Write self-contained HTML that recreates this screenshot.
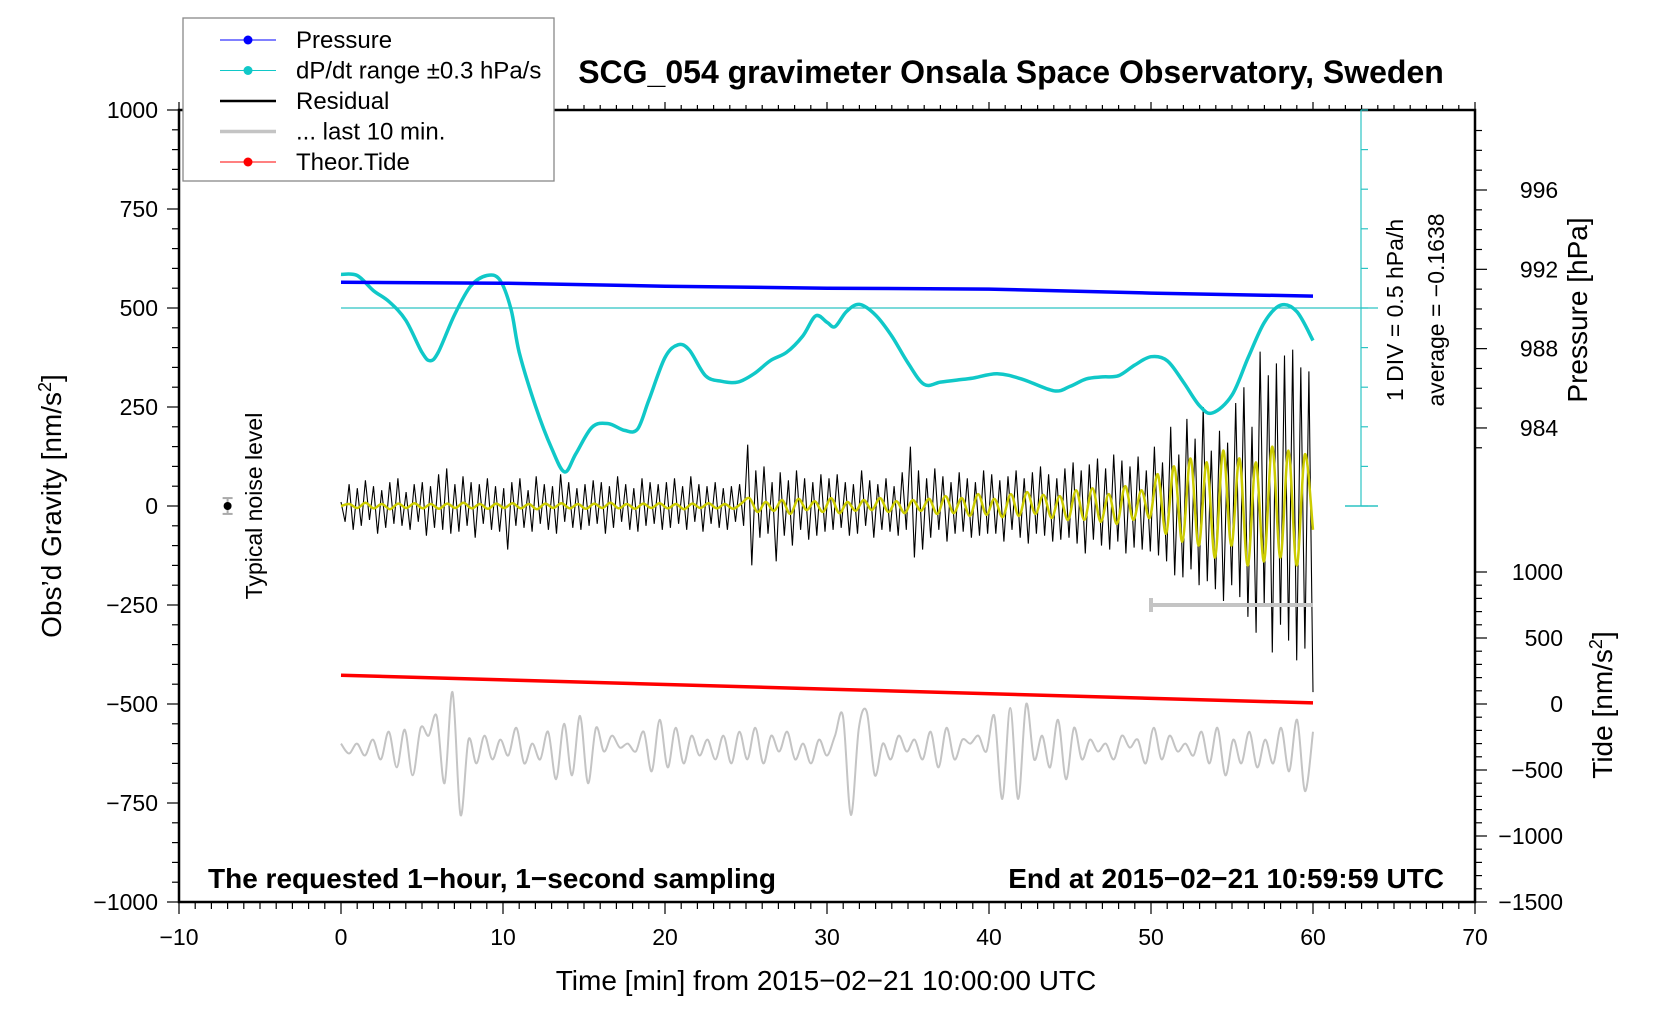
<!DOCTYPE html>
<html><head><meta charset="utf-8"><style>
html,body{margin:0;padding:0;background:#fff}
svg{display:block;font-family:"Liberation Sans",sans-serif}
</style></head><body>
<svg id="chart" width="1676" height="1020" viewBox="0 0 1676 1020">
<g id="plot"></g>
</svg>
<script>
// ---- data ----
const cyanT=[0,1,2,3,4,5,5.5,6,7,8,9,9.8,10.5,11,12,13,13.8,14.5,15.5,16.5,17.5,18.3,19,20,20.8,21.5,22.5,23.5,24.5,25.5,26.5,27.5,28.5,29.3,30,30.5,31.2,32,33,34,35,36,37,38,39,40.5,42,44,45,46,47,48,49,50,51,52,53,53.8,55,56,57,58,59,60];
const cyanV=[585,582,544,515,469,388,367,388,482,555,582,571,496,388,253,146,86,132,199,208,191,194,267,375,407,394,329,315,313,334,367,388,429,480,464,453,491,509,482,429,361,307,313,318,323,334,321,291,302,321,326,329,356,377,367,313,253,235,280,375,464,507,491,418];
const pressT=[0,10,20,30,40,50,60];
const pressV=[991.35,991.3,991.15,991.05,991.0,990.8,990.65];
const tideT=[0,30,60];
const tideV=[218,113,8];
const residual=[10,-40,55,-60,45,-50,65,-35,50,-70,40,-55,60,-45,70,-50,35,-60,55,-40,
60,-75,50,-55,80,-60,95,-70,55,-65,75,-50,60,-80,55,-45,70,-60,50,-65,
45,-110,60,-50,70,-55,40,-65,75,-45,55,-60,50,-70,80,-40,60,-55,45,-60,
55,-50,65,-45,60,-70,50,-55,75,-40,55,-60,45,-65,70,-50,60,-45,55,-60,
60,-55,70,-45,50,-60,75,-40,55,-65,50,-45,60,-55,45,-60,50,-40,55,-50,
155,-150,90,-80,100,-70,60,-140,85,-75,65,-100,90,-60,70,-85,60,-75,80,-65,
70,-60,80,-55,60,-75,55,-70,90,-50,65,-80,55,-60,70,-65,50,-75,85,-60,
150,-130,90,-110,70,-80,95,-60,75,-90,60,-70,85,-65,70,-80,60,-75,90,-70,
80,-70,65,-90,75,-60,90,-80,70,-95,85,-70,100,-75,80,-90,70,-85,95,-80,
110,-95,90,-120,105,-85,120,-100,95,-110,130,-90,115,-120,100,-105,125,-110,90,-115,
150,-125,110,-140,200,-175,130,-180,220,-160,170,-200,250,-190,140,-210,190,-240,160,-200,
260,-230,300,-280,200,-320,390,-250,330,-370,360,-300,380,-340,395,-390,350,-360,340,-470];
const yellow=[0,5,-5,8,-6,5,-8,6,-5,7,-6,5,-7,6,-5,8,-6,5,-7,6,
-5,7,-6,5,-8,6,-5,7,-6,5,-7,6,-5,8,-6,5,-7,6,-5,7,
-6,5,-8,6,-5,7,-6,5,-7,6,
20,-15,10,-12,15,-20,18,-10,12,-15,20,-18,10,-12,15,-10,20,-15,12,-18,
15,-12,18,-20,25,-18,20,-25,30,-22,18,-28,30,-25,35,-20,28,-30,25,-35,
40,-35,45,-40,30,-45,50,-35,40,-30,
80,-70,100,-90,120,-100,110,-130,140,-100,
120,-150,110,-140,150,-130,140,-150,130,-60];
const last10=[-600,-625,-600,-630,-590,-640,-570,-660,-565,-680,-560,-580,-530,-700,-470,-780,-590,-650,-580,-640,-590,-630,-560,-650,-600,-640,-570,-690,-550,-680,-530,-700,-560,-620,-580,-610,-600,-620,-570,-670,-540,-660,-560,-650,-580,-630,-590,-640,-580,-650,-570,-640,-560,-650,-580,-620,-570,-640,-600,-650,-590,-630,-580,-530,-780,-560,-520,-680,-600,-640,-580,-620,-590,-640,-570,-660,-560,-640,-590,-600,-580,-620,-530,-740,-510,-740,-500,-640,-580,-660,-540,-690,-560,-640,-590,-620,-600,-640,-580,-610,-590,-650,-560,-640,-580,-620,-600,-630,-570,-650,-560,-680,-590,-650,-570,-660,-590,-650,-560,-670,-540,-720,-570];
const xTicks=[-10,0,10,20,30,40,50,60,70];
const gTicks=[1000,750,500,250,0,-250,-500,-750,-1000];
const pTicks=[984,988,992,996];
const tTicks=[1000,500,0,-500,-1000,-1500];

// ---- scales ----
const L=179,R=1475,T=110,B=902;
const X=t=>L+(t+10)*(R-L)/80;
const Y=g=>(T+B)/2-g*(B-T)/2000;
const P=p=>190+(996-p)*19.83;
const TD=v=>704-v*0.132;

const NS='http://www.w3.org/2000/svg';
const plot=document.getElementById('plot');
function mk(tag,attrs,parent){const e=document.createElementNS(NS,tag);for(const k in attrs)e.setAttribute(k,attrs[k]);(parent||plot).appendChild(e);return e;}
function txt(s,attrs,parent){const e=mk('text',attrs,parent);e.textContent=s;return e;}
const minus=v=>String(v).replace('-','\u2212');

let e=mk('rect',{x:L,y:T,width:R-L,height:B-T,fill:'none',stroke:'#000','stroke-width':2.5});



const xg=mk('g',{});


for(let t=-10;t<=70;t++){const maj=t%10===0;
 mk('line',{x1:X(t),x2:X(t),y1:B,y2:B+(maj?12:7),stroke:'#000','stroke-width':1.2},xg);
 mk('line',{x1:X(t),x2:X(t),y1:T,y2:T-(maj?8:5),stroke:'#000','stroke-width':1.2},xg);}
xTicks.forEach(t=>{const l=txt(minus(t),{x:X(t),y:B+43,'text-anchor':'middle','font-size':23},xg);
 
 });
e=txt('Time [min] from 2015\u221202\u221221 10:00:00 UTC',{x:826,y:990,'text-anchor':'middle','font-size':28});



const yg=mk('g',{});


for(let g=-1000;g<=1000;g+=50){const maj=g%250===0;
 mk('line',{x1:L,x2:L-(maj?12:7),y1:Y(g),y2:Y(g),stroke:'#000','stroke-width':1.2},yg);}
gTicks.forEach(g=>{const l=txt(minus(g),{x:L-21,y:Y(g)+8,'text-anchor':'end','font-size':23},yg);
 
 });
e=txt('Obs\u2019d Gravity [nm/s',{x:0,y:0,'font-size':28,'text-anchor':'middle',transform:`translate(61,${Y(0)}) rotate(-90)`});
const sup=mk('tspan',{'baseline-shift':'super','font-size':18},e);sup.textContent='2';
const ts2=mk('tspan',{},e);ts2.textContent=']';



const pg=mk('g',{});


for(let p=983;p<=999;p++){const y=P(p);if(y<T||y>Y(0))continue;
 mk('line',{x1:R,x2:R+(p%4===0?12:7),y1:y,y2:y,stroke:'#000','stroke-width':1.2},pg);}
pTicks.forEach(p=>{const l=txt(String(p),{x:R+64,y:P(p)+8,'text-anchor':'middle','font-size':23},pg);
 
 });
e=txt('Pressure [hPa]',{x:0,y:0,'font-size':28,'text-anchor':'middle',transform:'translate(1587,310) rotate(-90)'});



const tg=mk('g',{});


for(let v=-1500;v<=1000;v+=100){mk('line',{x1:R,x2:R+(v%500===0?12:7),y1:TD(v),y2:TD(v),stroke:'#000','stroke-width':1.2},tg);}
tTicks.forEach(v=>{const l=txt(minus(v),{x:R+88,y:TD(v)+8,'text-anchor':'end','font-size':23},tg);
 
 });
e=txt('Tide [nm/s',{x:0,y:0,'font-size':28,'text-anchor':'middle',transform:'translate(1612,705) rotate(-90)'});
const s3=mk('tspan',{'baseline-shift':'super','font-size':18},e);s3.textContent='2';
const s4=mk('tspan',{},e);s4.textContent=']';



e=mk('line',{x1:X(0),x2:1378,y1:Y(500),y2:Y(500),stroke:'#2cc4c4','stroke-width':1.2});


const cs=mk('g',{});


mk('line',{x1:1361,x2:1361,y1:T,y2:Y(0),stroke:'#2cc4c4','stroke-width':1.2},cs);
for(let g=0;g<=1000;g+=100){mk('line',{x1:1361,x2:1368,y1:Y(g),y2:Y(g),stroke:'#2cc4c4','stroke-width':1.2},cs);}
mk('line',{x1:1345,x2:1378,y1:Y(0),y2:Y(0),stroke:'#2cc4c4','stroke-width':1.5},cs);
e=txt('1 DIV = 0.5 hPa/h',{x:0,y:0,'font-size':23,'text-anchor':'middle',transform:'translate(1403,310) rotate(-90)'});


e=txt('average = \u22120.1638',{x:0,y:0,'font-size':23,'text-anchor':'middle',transform:'translate(1444,310) rotate(-90)'});



function path(ts,vs,fy){return ts.map((t,i)=>(i?'L':'M')+X(t).toFixed(1)+' '+fy(vs[i]).toFixed(1)).join(' ');}
function smooth(ts,vs,fy){const p=ts.map((t,i)=>[X(t),fy(vs[i])]);let d='M'+p[0][0]+' '+p[0][1];
 for(let i=0;i<p.length-1;i++){const a=p[Math.max(0,i-1)],b=p[i],c=p[i+1],n=p[Math.min(p.length-1,i+2)];
  d+=` C${(b[0]+(c[0]-a[0])/6).toFixed(1)} ${(b[1]+(c[1]-a[1])/6).toFixed(1)} ${(c[0]-(n[0]-b[0])/6).toFixed(1)} ${(c[1]-(n[1]-b[1])/6).toFixed(1)} ${c[0].toFixed(1)} ${c[1].toFixed(1)}`;}
 return d;}
const idx=(arr)=>arr.map((_,i)=>i*60/(arr.length-1));

e=mk('path',{d:smooth(idx(last10),last10,Y),fill:'none',stroke:'#c4c4c4','stroke-width':2});


e=mk('path',{d:path(idx(residual),residual,Y),fill:'none',stroke:'#000','stroke-width':1.1});


e=mk('path',{d:smooth(idx(yellow),yellow,Y),fill:'none',stroke:'#cccc00','stroke-width':2.5});


e=mk('path',{d:smooth(cyanT,cyanV,Y),fill:'none',stroke:'#10c8c8','stroke-width':3.5,'stroke-linejoin':'round'});


e=mk('path',{d:path(pressT,pressV,P),fill:'none',stroke:'#0000ff','stroke-width':3.5});


e=mk('path',{d:path(tideT,tideV,TD),fill:'none',stroke:'#ff0000','stroke-width':3.5});



const lb=mk('g',{});


mk('line',{x1:X(50),x2:X(60),y1:Y(-250),y2:Y(-250),stroke:'#c4c4c4','stroke-width':4},lb);
mk('line',{x1:X(50),x2:X(50),y1:Y(-250)-7,y2:Y(-250)+7,stroke:'#c4c4c4','stroke-width':4},lb);

const nl=mk('g',{});


mk('line',{x1:X(-7),x2:X(-7),y1:Y(20),y2:Y(-20),stroke:'#aaa','stroke-width':2},nl);
mk('line',{x1:X(-7)-5,x2:X(-7)+5,y1:Y(20),y2:Y(20),stroke:'#aaa','stroke-width':2},nl);
mk('line',{x1:X(-7)-5,x2:X(-7)+5,y1:Y(-20),y2:Y(-20),stroke:'#aaa','stroke-width':2},nl);
mk('circle',{cx:X(-7),cy:Y(0),r:4,fill:'#000'},nl);
e=txt('Typical noise level',{x:0,y:0,'font-size':23,'text-anchor':'middle',transform:`translate(262,${Y(0)}) rotate(-90)`});



e=txt('SCG_054 gravimeter Onsala Space Observatory, Sweden',{x:1011,y:83,'text-anchor':'middle','font-size':32,'font-weight':'bold'});


e=txt('The requested 1\u2212hour, 1\u2212second sampling',{x:208,y:888,'font-size':28,'font-weight':'bold'});


e=txt('End at 2015\u221202\u221221 10:59:59 UTC',{x:1444,y:888,'text-anchor':'end','font-size':28,'font-weight':'bold'});



const lg=mk('g',{});


mk('rect',{x:183,y:18,width:371,height:163,fill:'#fff',stroke:'#888','stroke-width':1.3},lg);
const items=[['Pressure','#0000ff',1,true],['dP/dt range \u00b10.3 hPa/s','#10c8c8',1,true],['Residual','#000',2.5,false],['... last 10 min.','#c4c4c4',3.5,false],['Theor.Tide','#ff0000',1,true]];
items.forEach((it,i)=>{const y=40+i*30.5;
 const g=mk('g',{},lg);
 
 
 mk('line',{x1:220,x2:276,y1:y,y2:y,stroke:it[1],'stroke-width':it[2]},g);
 if(it[3])mk('circle',{cx:248,cy:y,r:4.5,fill:it[1]},g);
 txt(it[0],{x:296,y:y+8,'font-size':24},g);});
</script>
</body></html>
